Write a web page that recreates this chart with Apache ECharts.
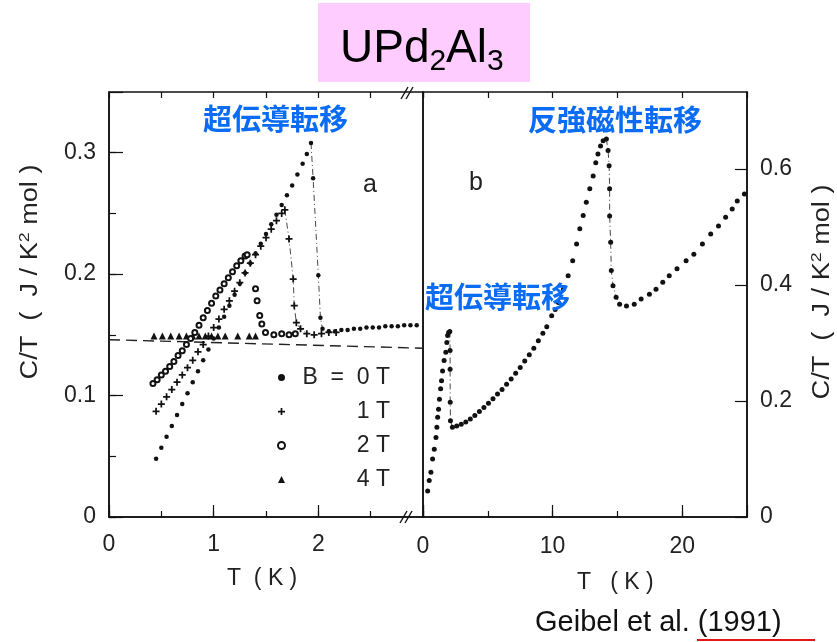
<!DOCTYPE html>
<html lang="ja">
<head>
<meta charset="UTF-8">
<title>UPd2Al3 C/T</title>
<script src="https://cdn.jsdelivr.net/npm/echarts@6/dist/echarts.min.js"></script>
<style>
  html, body { margin: 0; padding: 0; background: #fff; }
  #main { width: 837px; height: 642px; }
</style>
</head>
<body>
<div id="main"></div>
<script>
// panel a: [T (K), C/T (J/K^2 mol)] below 3 K
var b0T = [
  [0.45,0.048],[0.50,0.057],[0.55,0.066],[0.60,0.075],[0.65,0.084],[0.70,0.093],
  [0.75,0.102],[0.80,0.111],[0.85,0.120],[0.90,0.129],[0.95,0.138],[1.00,0.147],
  [1.05,0.156],[1.10,0.165],[1.15,0.174],[1.20,0.183],[1.25,0.192],[1.30,0.201],
  [1.35,0.209],[1.40,0.217],[1.45,0.225],[1.50,0.233],[1.55,0.241],[1.60,0.249],
  [1.65,0.257],[1.70,0.265],[1.75,0.273],[1.80,0.282],[1.85,0.291],[1.89,0.299],
  [1.93,0.308],[1.95,0.279],[2.00,0.199],[2.02,0.164],[2.04,0.155],[2.10,0.153],
  [2.16,0.153],[2.22,0.154],[2.28,0.154],[2.34,0.155],[2.40,0.155],[2.46,0.156],
  [2.52,0.156],[2.58,0.156],[2.64,0.157],[2.70,0.157],[2.76,0.157],[2.82,0.158],
  [2.88,0.158],[2.94,0.158]
];
var b1T = [
  [0.45,0.087],[0.50,0.093],[0.55,0.099],[0.60,0.105],[0.65,0.111],[0.70,0.117],
  [0.75,0.123],[0.80,0.129],[0.85,0.136],[0.90,0.142],[0.95,0.149],[1.00,0.156],
  [1.05,0.163],[1.10,0.171],[1.15,0.178],[1.20,0.186],[1.25,0.193],[1.30,0.201],
  [1.35,0.209],[1.40,0.216],[1.45,0.223],[1.50,0.230],[1.55,0.237],[1.60,0.244],
  [1.65,0.250],[1.68,0.253],[1.72,0.229],[1.76,0.196],[1.77,0.174],[1.79,0.160],
  [1.83,0.155],[1.89,0.151],[1.96,0.150],[2.03,0.151],[2.10,0.152],[2.17,0.152]
];
var b2T = [
  [0.42,0.110],[0.46,0.113],[0.50,0.117],[0.54,0.120],[0.58,0.124],[0.62,0.128],
  [0.66,0.133],[0.70,0.137],[0.74,0.142],[0.78,0.147],[0.82,0.152],[0.86,0.158],
  [0.90,0.164],[0.94,0.170],[0.98,0.176],[1.02,0.182],[1.06,0.187],[1.10,0.192],
  [1.14,0.197],[1.18,0.202],[1.22,0.207],[1.26,0.211],[1.30,0.215],[1.32,0.216],
  [1.40,0.188],[1.415,0.178],[1.44,0.166],[1.46,0.159],[1.495,0.152],[1.575,0.150],
  [1.65,0.151],[1.72,0.150],[1.78,0.151]
];
var b4T = [
  [0.43,0.149],[0.51,0.149],[0.59,0.149],[0.67,0.149],[0.74,0.149],[0.80,0.149],
  [0.86,0.149],[0.92,0.149],[0.98,0.149],[1.04,0.149],[1.11,0.149],[1.23,0.149],
  [1.34,0.149],[1.40,0.149]
];
var normalLine = [[0, 0.146], [3, 0.139]];

// panel b: zero field up to 25 K
var zeroField = [
  [0.36,0.045],[0.48,0.063],[0.61,0.077],[0.74,0.100],[0.87,0.117],[1.00,0.137],
  [1.07,0.155],[1.13,0.172],[1.20,0.186],[1.27,0.203],[1.36,0.221],[1.43,0.235],
  [1.51,0.252],[1.63,0.270],[1.76,0.284],[1.84,0.301],[1.90,0.313],[1.98,0.318],
  [2.07,0.320],[2.09,0.287],[2.09,0.255],[2.10,0.198],[2.12,0.166],[2.27,0.155],
  [2.60,0.157],[2.95,0.160],[3.30,0.164],[3.65,0.169],[4.00,0.175],[4.35,0.182],
  [4.70,0.189],[5.05,0.196],[5.40,0.204],[5.75,0.212],[6.10,0.220],[6.45,0.229],
  [6.80,0.238],[7.15,0.248],[7.50,0.258],[7.85,0.269],[8.20,0.280],[8.55,0.291],
  [8.90,0.304],[9.25,0.317],[9.55,0.328],[9.93,0.347],[10.20,0.358],[10.45,0.370],
  [10.83,0.393],[11.20,0.416],[11.55,0.442],[11.85,0.471],[12.10,0.497],[12.36,0.520],
  [12.60,0.543],[12.87,0.566],[13.13,0.588],[13.33,0.611],[13.50,0.626],[13.70,0.640],
  [13.90,0.649],[14.15,0.652],[14.28,0.632],[14.36,0.606],[14.40,0.566],[14.40,0.519],
  [14.48,0.474],[14.53,0.425],[14.66,0.399],[14.90,0.379],[15.17,0.367],[15.70,0.364],
  [16.30,0.367],[16.83,0.376],[17.47,0.384],[17.98,0.393],[18.50,0.405],[19.00,0.416],
  [19.60,0.428],[20.30,0.442],[20.90,0.453],[21.56,0.471],[22.20,0.488],[22.80,0.502],
  [23.35,0.517],[23.86,0.531],[24.25,0.545],[24.80,0.557]
];

// tick labels and legend text
var aTempLabels = [0, 1, 2];
var bTempLabels = [0, 10, 20];
var aCLabels = [0, 0.1, 0.2, 0.3];
var bCLabels = [0, 0.2, 0.4, 0.6];
var fieldNames = ['B = 0T', '1T', '2T', '4T'];
var fieldShown = ['B  =  0 T', '1 T', '2 T', '4 T'];

var ff = 'Liberation Sans, Arial, sans-serif';
var jp = 'Noto Sans CJK JP, sans-serif';
var ink = '#111';
var blue = '#0a6cf5';

function pick(list) {
  return function (v) {
    for (var i = 0; i < list.length; i++) {
      if (Math.abs(v - list[i]) < 1e-6) return String(list[i]);
    }
    return '';
  };
}

function axis(grid, pos, min, max, step, tickLen, labels, margin, withLine) {
  return {
    gridIndex: grid, type: 'value', position: pos, min: min, max: max, interval: step,
    axisLine: { show: !!withLine, onZero: false, lineStyle: { color: ink, width: 1.5 } },
    axisTick: { show: true, inside: true, length: tickLen, lineStyle: { color: ink, width: 1.2 } },
    axisLabel: labels ? {
      show: true, margin: margin, fontSize: 23, fontFamily: ff, color: '#222',
      showMaxLabel: false, formatter: pick(labels)
    } : { show: false },
    splitLine: { show: false }
  };
}

function guide(data, xi, yi) {
  return {
    type: 'line', data: data, xAxisIndex: xi, yAxisIndex: yi, symbol: 'none', silent: true, z: 1,
    lineStyle: { color: '#333', width: 0.9, type: [6, 3, 1, 3] }
  };
}

function dots(name, data, xi, yi, symbol, size, extra) {
  var st = { color: ink, opacity: 1 };
  if (extra) for (var k in extra) st[k] = extra[k];
  return {
    name: name, type: 'scatter', data: data, xAxisIndex: xi, yAxisIndex: yi,
    symbol: symbol, symbolSize: size, itemStyle: st
  };
}

function txt(x, y, s, size, color, family, weight) {
  return {
    type: 'text', x: x, y: y, z: 10,
    style: {
      text: s, fontSize: size, fontFamily: family, fontWeight: weight || 'normal',
      fill: color, align: 'left', verticalAlign: 'middle',
      textAlign: 'left', textVerticalAlign: 'middle'
    }
  };
}

function yName(x, y) {
  return {
    type: 'text', x: x, y: y, rotation: Math.PI / 2, scaleX: 1.18, z: 10,
    style: {
      text: '{n|C/T  (  J / K}{u|2}{n| mol )}',
      align: 'center', verticalAlign: 'middle', textAlign: 'center', textVerticalAlign: 'middle',
      rich: {
        n: { fontSize: 23, fontFamily: ff, fill: '#222', lineHeight: 28 },
        u: { fontSize: 15, fontFamily: ff, fill: '#222', lineHeight: 14, verticalAlign: 'top' }
      }
    }
  };
}

var chart = echarts.init(document.getElementById('main'));
chart.setOption({
  backgroundColor: '#fff',
  animation: false,
  grid: [
    { left: 109, top: 92, width: 314, height: 425, show: true, borderColor: ink, borderWidth: 1.5 },
    { left: 423, top: 92, width: 324, height: 425, show: true, borderColor: ink, borderWidth: 1.5 }
  ],
  xAxis: [
    axis(0, 'bottom', 0, 3, 0.5, 6, aTempLabels, 16, true),
    axis(0, 'bottom', 0, 3, 1, 12, null),
    axis(0, 'top', 0, 3, 0.5, 6, null),
    axis(1, 'bottom', 0, 25, 5, 6, bTempLabels, 18, true),
    axis(1, 'bottom', 0, 25, 10, 12, null),
    axis(1, 'top', 0, 25, 5, 6, null)
  ],
  yAxis: [
    axis(0, 'left', 0, 0.35, 0.05, 7, aCLabels, 13, true),
    axis(0, 'left', 0, 0.35, 0.1, 14, null),
    axis(1, 'right', 0, 0.733, 0.2, 12, bCLabels, 13, true)
  ],
  legend: {
    orient: 'vertical', left: 277, top: 366, padding: 0,
    itemWidth: 7, itemHeight: 7, itemGap: 11,
    data: fieldNames,
    formatter: function (n) { return '{t|' + fieldShown[fieldNames.indexOf(n)] + '}'; },
    textStyle: {
      rich: { t: { width: 100, align: 'right', fontSize: 23, lineHeight: 24, fontFamily: ff, color: '#222' } }
    }
  },
  series: [
    { type: 'line', data: normalLine, xAxisIndex: 0, yAxisIndex: 0, symbol: 'none', silent: true, z: 1,
      lineStyle: { color: '#222', width: 1.4, type: [11, 6] } },
    guide(b0T.slice(30, 36), 0, 0),
    guide(b1T.slice(25, 32), 0, 0),
    guide(zeroField.slice(18, 24), 3, 2),
    guide(zeroField.slice(61, 71), 3, 2),
    dots('4T', b4T, 0, 0, 'triangle', 7),
    dots('2T', b2T, 0, 0, 'emptyCircle', 5, { borderWidth: 1 }),
    dots('1T', b1T, 0, 0, 'path://M3,0h2v3h3v2h-3v3h-2v-3h-3v-2h3z', 7),
    dots('B = 0T', b0T, 0, 0, 'circle', 4.5),
    dots('b', zeroField, 3, 2, 'circle', 5)
  ],
  graphic: [
    { type: 'rect', shape: { x: 318, y: 3, width: 212, height: 79 }, style: { fill: '#ffccff' }, z: 5 },
    txt(340, 49, 'UPd', 46, '#000', ff),
    txt(429.5, 61.5, '2', 30, '#000', ff),
    txt(446, 49, 'Al', 46, '#000', ff),
    txt(487, 61.5, '3', 30, '#000', ff),
    txt(203, 119, '超伝導転移', 29, blue, jp, 'bold'),
    txt(528, 120, '反強磁性転移', 29, blue, jp, 'bold'),
    txt(425, 297, '超伝導転移', 29, blue, jp, 'bold'),
    txt(363, 185, 'a', 25, '#222', ff),
    txt(469, 183, 'b', 25, '#222', ff),
    yName(31, 272),
    yName(823, 292),
    txt(227, 579, 'T  ( K )', 23, '#222', ff),
    txt(577, 583, 'T   ( K )', 23, '#222', ff),
    txt(535, 623, 'Geibel et al. (1991)', 29, '#111', ff),
    { type: 'rect', shape: { x: 697, y: 639, width: 118, height: 2 }, style: { fill: '#e8141b' }, z: 10 },
    { type: 'line', shape: { x1: 401, y1: 99, x2: 408, y2: 87 }, style: { stroke: ink, lineWidth: 1.4 }, z: 10 },
    { type: 'line', shape: { x1: 406, y1: 99, x2: 413, y2: 87 }, style: { stroke: ink, lineWidth: 1.4 }, z: 10 },
    { type: 'line', shape: { x1: 400, y1: 523, x2: 407, y2: 511 }, style: { stroke: ink, lineWidth: 1.4 }, z: 10 },
    { type: 'line', shape: { x1: 405, y1: 523, x2: 412, y2: 511 }, style: { stroke: ink, lineWidth: 1.4 }, z: 10 }
  ]
});
</script>
</body>
</html>
